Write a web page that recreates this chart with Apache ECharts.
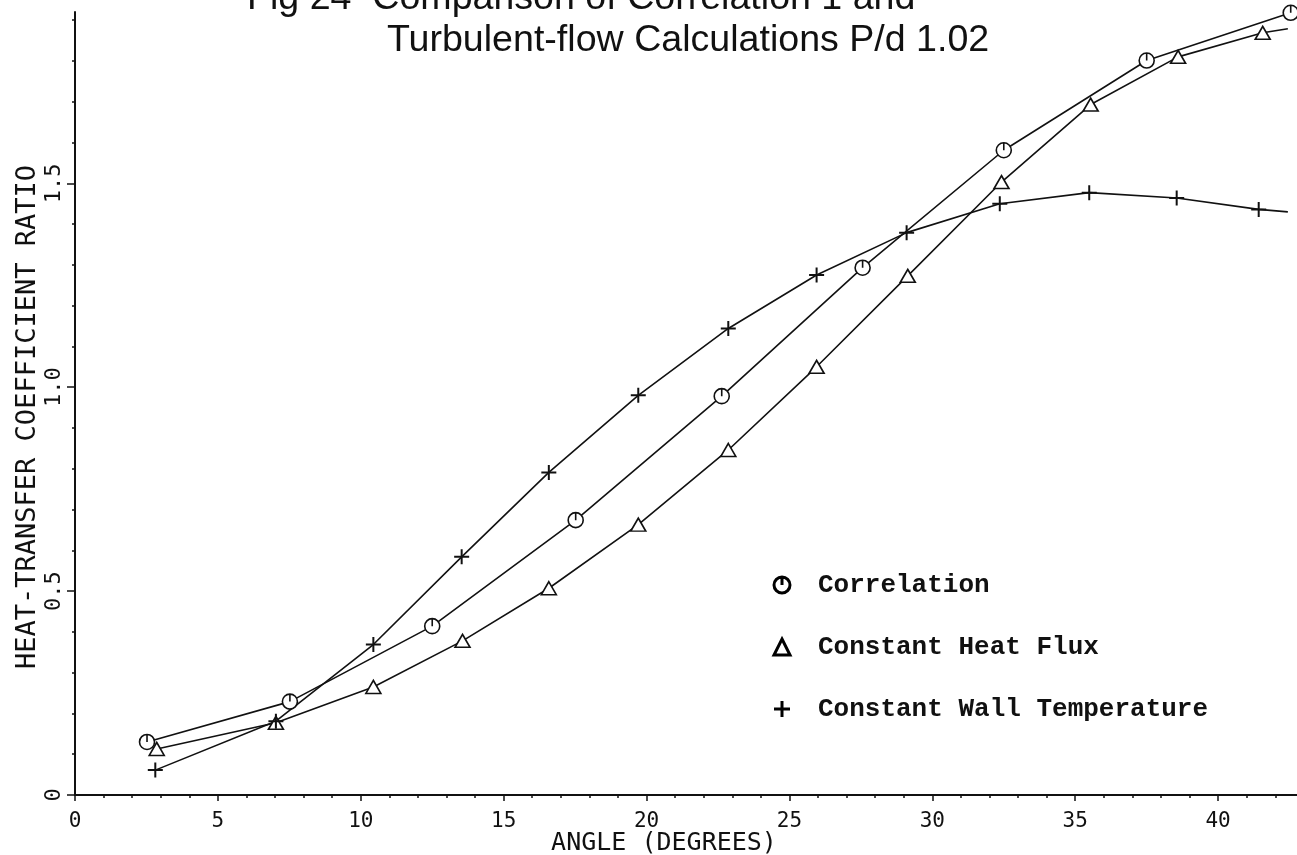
<!DOCTYPE html>
<html>
<head>
<meta charset="utf-8">
<script src="https://cdn.jsdelivr.net/npm/echarts@6/dist/echarts.min.js"></script>
<style>
html,body{margin:0;padding:0;background:#fff;overflow:hidden;}
#chart{width:1297px;height:855px;}
</style>
</head>
<body>
<div id="chart"></div>
<script>
// ---- data ----
const titleLine1 = 'Fig 24  Comparison of Correlation 1 and';
const titleLine2 = 'Turbulent-flow Calculations P/d 1.02';
const xAxisName = 'ANGLE (DEGREES)';
const yAxisName = 'HEAT-TRANSFER COEFFICIENT RATIO';
const seriesNames = ['Correlation', 'Constant Heat Flux', 'Constant Wall Temperature'];

const xMajorTicks = [0, 5, 10, 15, 20, 25, 30, 35, 40];
const xTickLabels = ['0', '5', '10', '15', '20', '25', '30', '35', '40'];
const xMinorTicks = [0,1,2,3,4,5,6,7,8,9,10,11,12,13,14,15,16,17,18,19,20,21,22,23,24,25,26,27,28,29,30,31,32,33,34,35,36,37,38,39,40,41,42];
const yMajorTicks = [0, 0.5, 1.0, 1.5];
const yTickLabels = ['0', '0.5', '1.0', '1.5'];
const yMinorTicks = [0,0.1,0.2,0.3,0.4,0.5,0.6,0.7,0.8,0.9,1.0,1.1,1.2,1.3,1.4,1.5,1.6,1.7,1.8,1.9];

const corrX = [2.52, 7.52, 12.5, 17.52, 22.63, 27.56, 32.5, 37.5, 42.54];
const corrY = [0.130, 0.229, 0.414, 0.674, 0.978, 1.293, 1.581, 1.801, 1.918];

const fluxX = [2.86, 7.03, 10.44, 13.56, 16.58, 19.71, 22.86, 25.95, 29.14, 32.42, 35.54, 38.60, 41.56, 42.44];
const fluxY = [0.113, 0.177, 0.265, 0.378, 0.507, 0.663, 0.846, 1.050, 1.273, 1.503, 1.693, 1.810, 1.869, 1.879];

const wallX = [2.81, 7.03, 10.44, 13.53, 16.58, 19.71, 22.86, 25.95, 29.10, 32.36, 35.49, 38.55, 41.42, 42.44];
const wallY = [0.061, 0.181, 0.369, 0.584, 0.791, 0.980, 1.144, 1.275, 1.379, 1.450, 1.477, 1.464, 1.436, 1.430];

const xMin = 0, xMax = 42.76, yMin = 0, yMax = 1.92;

// ---- symbols ----
const circleSym = 'path://M0,-10 A10,10 0 1,1 0,10 A10,10 0 1,1 0,-10 Z M0,-10 L0,0';
const triSym = 'path://M10,0 L20,17 L0,17 Z';
const plusSym = 'path://M10,0 L10,20 M0,10 L20,10';

function pairs(xs, ys, lastNoSymbol, n) {
  return xs.map((x, i) => {
    const item = { value: [x, ys[i]] };
    if (lastNoSymbol && i >= n) item.symbol = 'none';
    return item;
  });
}

const chart = echarts.init(document.getElementById('chart'), null, { renderer: 'canvas', width: 1297, height: 855 });
const monoFont = 'DejaVu Sans Mono';

const option = {
  backgroundColor: '#ffffff',
  animation: false,
  grid: { left: 75, width: 1222, top: 12, height: 783, containLabel: false, outerBoundsMode: 'none' },
  graphic: [
    { type: 'text', left: 247, top: -20, silent: true,
      style: { text: titleLine1, font: '37.6px "Liberation Sans", Arial, sans-serif', fill: '#111' } },
    { type: 'text', left: 387, top: 22, silent: true,
      style: { text: titleLine2, font: '37.6px "Liberation Sans", Arial, sans-serif', fill: '#111' } }
  ],
  xAxis: [
    {
      type: 'value', min: xMin, max: xMax,
      name: xAxisName, nameLocation: 'middle', nameGap: 36, nameMoveOverlap: false,
      nameTextStyle: { fontFamily: monoFont, fontSize: 25, color: '#111', padding: [0, 44, 0, 0] },
      axisLine: { show: true, onZero: false, lineStyle: { color: '#111', width: 2 } },
      axisTick: { show: true, inside: false, length: 3, customValues: xMinorTicks, lineStyle: { color: '#111', width: 1.5 } },
      axisLabel: { show: true, margin: 16, customValues: xMajorTicks,
        formatter: v => xTickLabels[xMajorTicks.indexOf(v)] ?? '',
        fontFamily: monoFont, fontSize: 21, color: '#111' },
      splitLine: { show: false }
    },
    {
      type: 'value', min: xMin, max: xMax, position: 'bottom',
      axisLine: { show: false },
      axisTick: { show: true, inside: false, length: 6, customValues: xMajorTicks, lineStyle: { color: '#111', width: 1.5 } },
      axisLabel: { show: false },
      splitLine: { show: false }
    }
  ],
  yAxis: [
    {
      type: 'value', min: yMin, max: yMax,
      name: yAxisName, nameLocation: 'middle', nameGap: 34, nameRotate: 90, nameMoveOverlap: false,
      nameTextStyle: { fontFamily: monoFont, fontSize: 27, color: '#111', padding: [0, 27, 0, 0] },
      axisLine: { show: true, onZero: false, lineStyle: { color: '#111', width: 2 } },
      axisTick: { show: true, inside: false, length: 3, customValues: yMinorTicks, lineStyle: { color: '#111', width: 1.5 } },
      axisLabel: { show: true, rotate: 90, margin: 10, customValues: yMajorTicks,
        formatter: v => yTickLabels[yMajorTicks.indexOf(v)] ?? '',
        fontFamily: monoFont, fontSize: 22, color: '#111' },
      splitLine: { show: false }
    },
    {
      type: 'value', min: yMin, max: yMax, position: 'left',
      axisLine: { show: false },
      axisTick: { show: true, inside: false, length: 8, customValues: yMajorTicks, lineStyle: { color: '#111', width: 1.5 } },
      axisLabel: { show: false },
      splitLine: { show: false }
    }
  ],
  legend: {
    orient: 'vertical', left: 746, top: 567,
    itemWidth: 62, itemHeight: 20, itemGap: 36,
    data: seriesNames,
    lineStyle: { width: 0 },
    itemStyle: { color: '#fff', borderColor: '#000', borderWidth: 3 },
    textStyle: { fontFamily: '"Liberation Mono", "Courier New", monospace', fontWeight: 'bold', fontSize: 26, color: '#111' },
    selectedMode: false
  },
  series: [
    {
      name: seriesNames[0], type: 'line', xAxisIndex: 0, yAxisIndex: 0,
      data: pairs(corrX, corrY, false, 0),
      symbol: circleSym, symbolSize: 15, clip: false,
      lineStyle: { color: '#111', width: 1.6 },
      itemStyle: { color: '#fff', borderColor: '#111', borderWidth: 1.6 }
    },
    {
      name: seriesNames[1], type: 'line', xAxisIndex: 0, yAxisIndex: 0,
      data: pairs(fluxX, fluxY, true, 13),
      symbol: triSym, symbolSize: [15, 13], clip: false,
      lineStyle: { color: '#111', width: 1.6 },
      itemStyle: { color: '#fff', borderColor: '#111', borderWidth: 1.6 }
    },
    {
      name: seriesNames[2], type: 'line', xAxisIndex: 0, yAxisIndex: 0,
      data: pairs(wallX, wallY, true, 13),
      symbol: plusSym, symbolSize: 15, clip: false,
      lineStyle: { color: '#111', width: 1.6 },
      itemStyle: { color: '#fff', borderColor: '#111', borderWidth: 2 }
    }
  ]
};
chart.setOption(option);
</script>
</body>
</html>
